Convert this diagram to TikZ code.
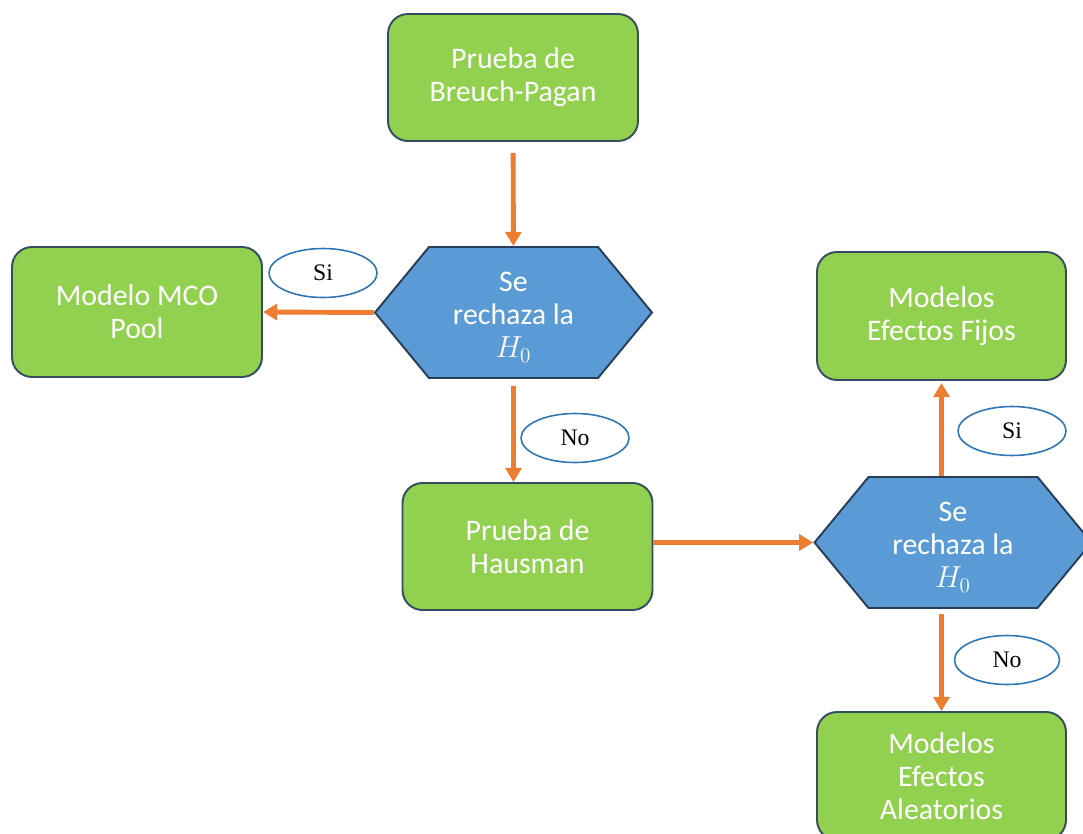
\documentclass[tikz,border=0pt]{standalone}
\usepackage{fontspec}
\setmainfont{Carlito}
\newfontfamily\ovalfont{Liberation Serif}
\usetikzlibrary{shapes.geometric,shapes.symbols,arrows.meta}

\begin{document}
\begin{tikzpicture}[
line width=1pt,
every node/.style={font=\fontsize{17}{18.9}\selectfont},
box/.style={draw=boxline, fill=boxgreen, rounded corners=0.4cm, minimum width=5cm, minimum height=2.54cm, text=white, align=center, line width=1.1pt},
hexa/.style={shape=signal, signal to=west and east, signal pointer angle=101, draw=hexline, fill=hexblue, minimum width=5.54cm, minimum height=2.62cm, text=white, align=center, inner sep=0pt, text height=54pt, line width=1.1pt},
answer/.style={ellipse, draw=ovalblue, fill=white, minimum width=2.16cm, minimum height=0.98cm, font=\ovalfont\fontsize{13.5}{15}\selectfont, line width=0.9pt},
flow/.style={draw=arrorange, line width=2.8pt, -{Triangle[width=9pt,length=8pt]}}
]
\definecolor{boxgreen}{RGB}{146,208,80}
\definecolor{boxline}{RGB}{52,78,96}
\definecolor{hexblue}{RGB}{91,155,213}
\definecolor{hexline}{RGB}{40,62,88}
\definecolor{ovalblue}{RGB}{46,117,182}
\definecolor{arrorange}{RGB}{237,125,49}

\clip (0,0) rectangle (21.66,-16.66);
\useasboundingbox (0,0) rectangle (21.66,-16.66);

% first test
\node[box] (breusch) at (10.26,-1.55) {Prueba de\\Breuch-Pagan};
\node[hexa] (test1) at (10.27,-6.25) {Se\\rechaza la\\$H_0$};
\node[box, minimum height=2.6cm] (pool) at (2.74,-6.24) {Modelo MCO\\Pool};
\node[answer] (si1) at (6.46,-5.46) {Si};
\node[answer] (no1) at (11.5,-8.76) {No};

% second test
\node[box] (hausman) at (10.55,-10.93) {Prueba de\\Hausman};
\node[hexa] (test2) at (19.06,-10.85) {Se\\rechaza la\\$H_0$};
\node[box, minimum width=4.98cm, minimum height=2.56cm] (fijos) at (18.83,-6.32) {Modelos\\Efectos Fijos};
\node[box, minimum width=4.98cm, minimum height=2.56cm] (aleat) at (18.83,-15.52) {Modelos\\Efectos\\Aleatorios};
\node[answer] (si2) at (20.24,-8.62) {Si};
\node[answer, minimum width=2.1cm] (no2) at (20.14,-13.2) {No};

\draw[flow, shorten <=0.22cm] (breusch) -- (test1);
\draw[flow] (test1.west) -- (pool.east);
\draw[flow, shorten <=0.14cm] (test1) -- (hausman.north -| test1.south);
\draw[flow] (hausman.east |- test2.west) -- (test2.west);
\draw[flow, shorten >=0.04cm] (fijos.south |- test2.north) -- (fijos.south);
\draw[flow, shorten <=0.1cm] (aleat.north |- test2.south) -- (aleat.north);
\end{tikzpicture}
\end{document}
